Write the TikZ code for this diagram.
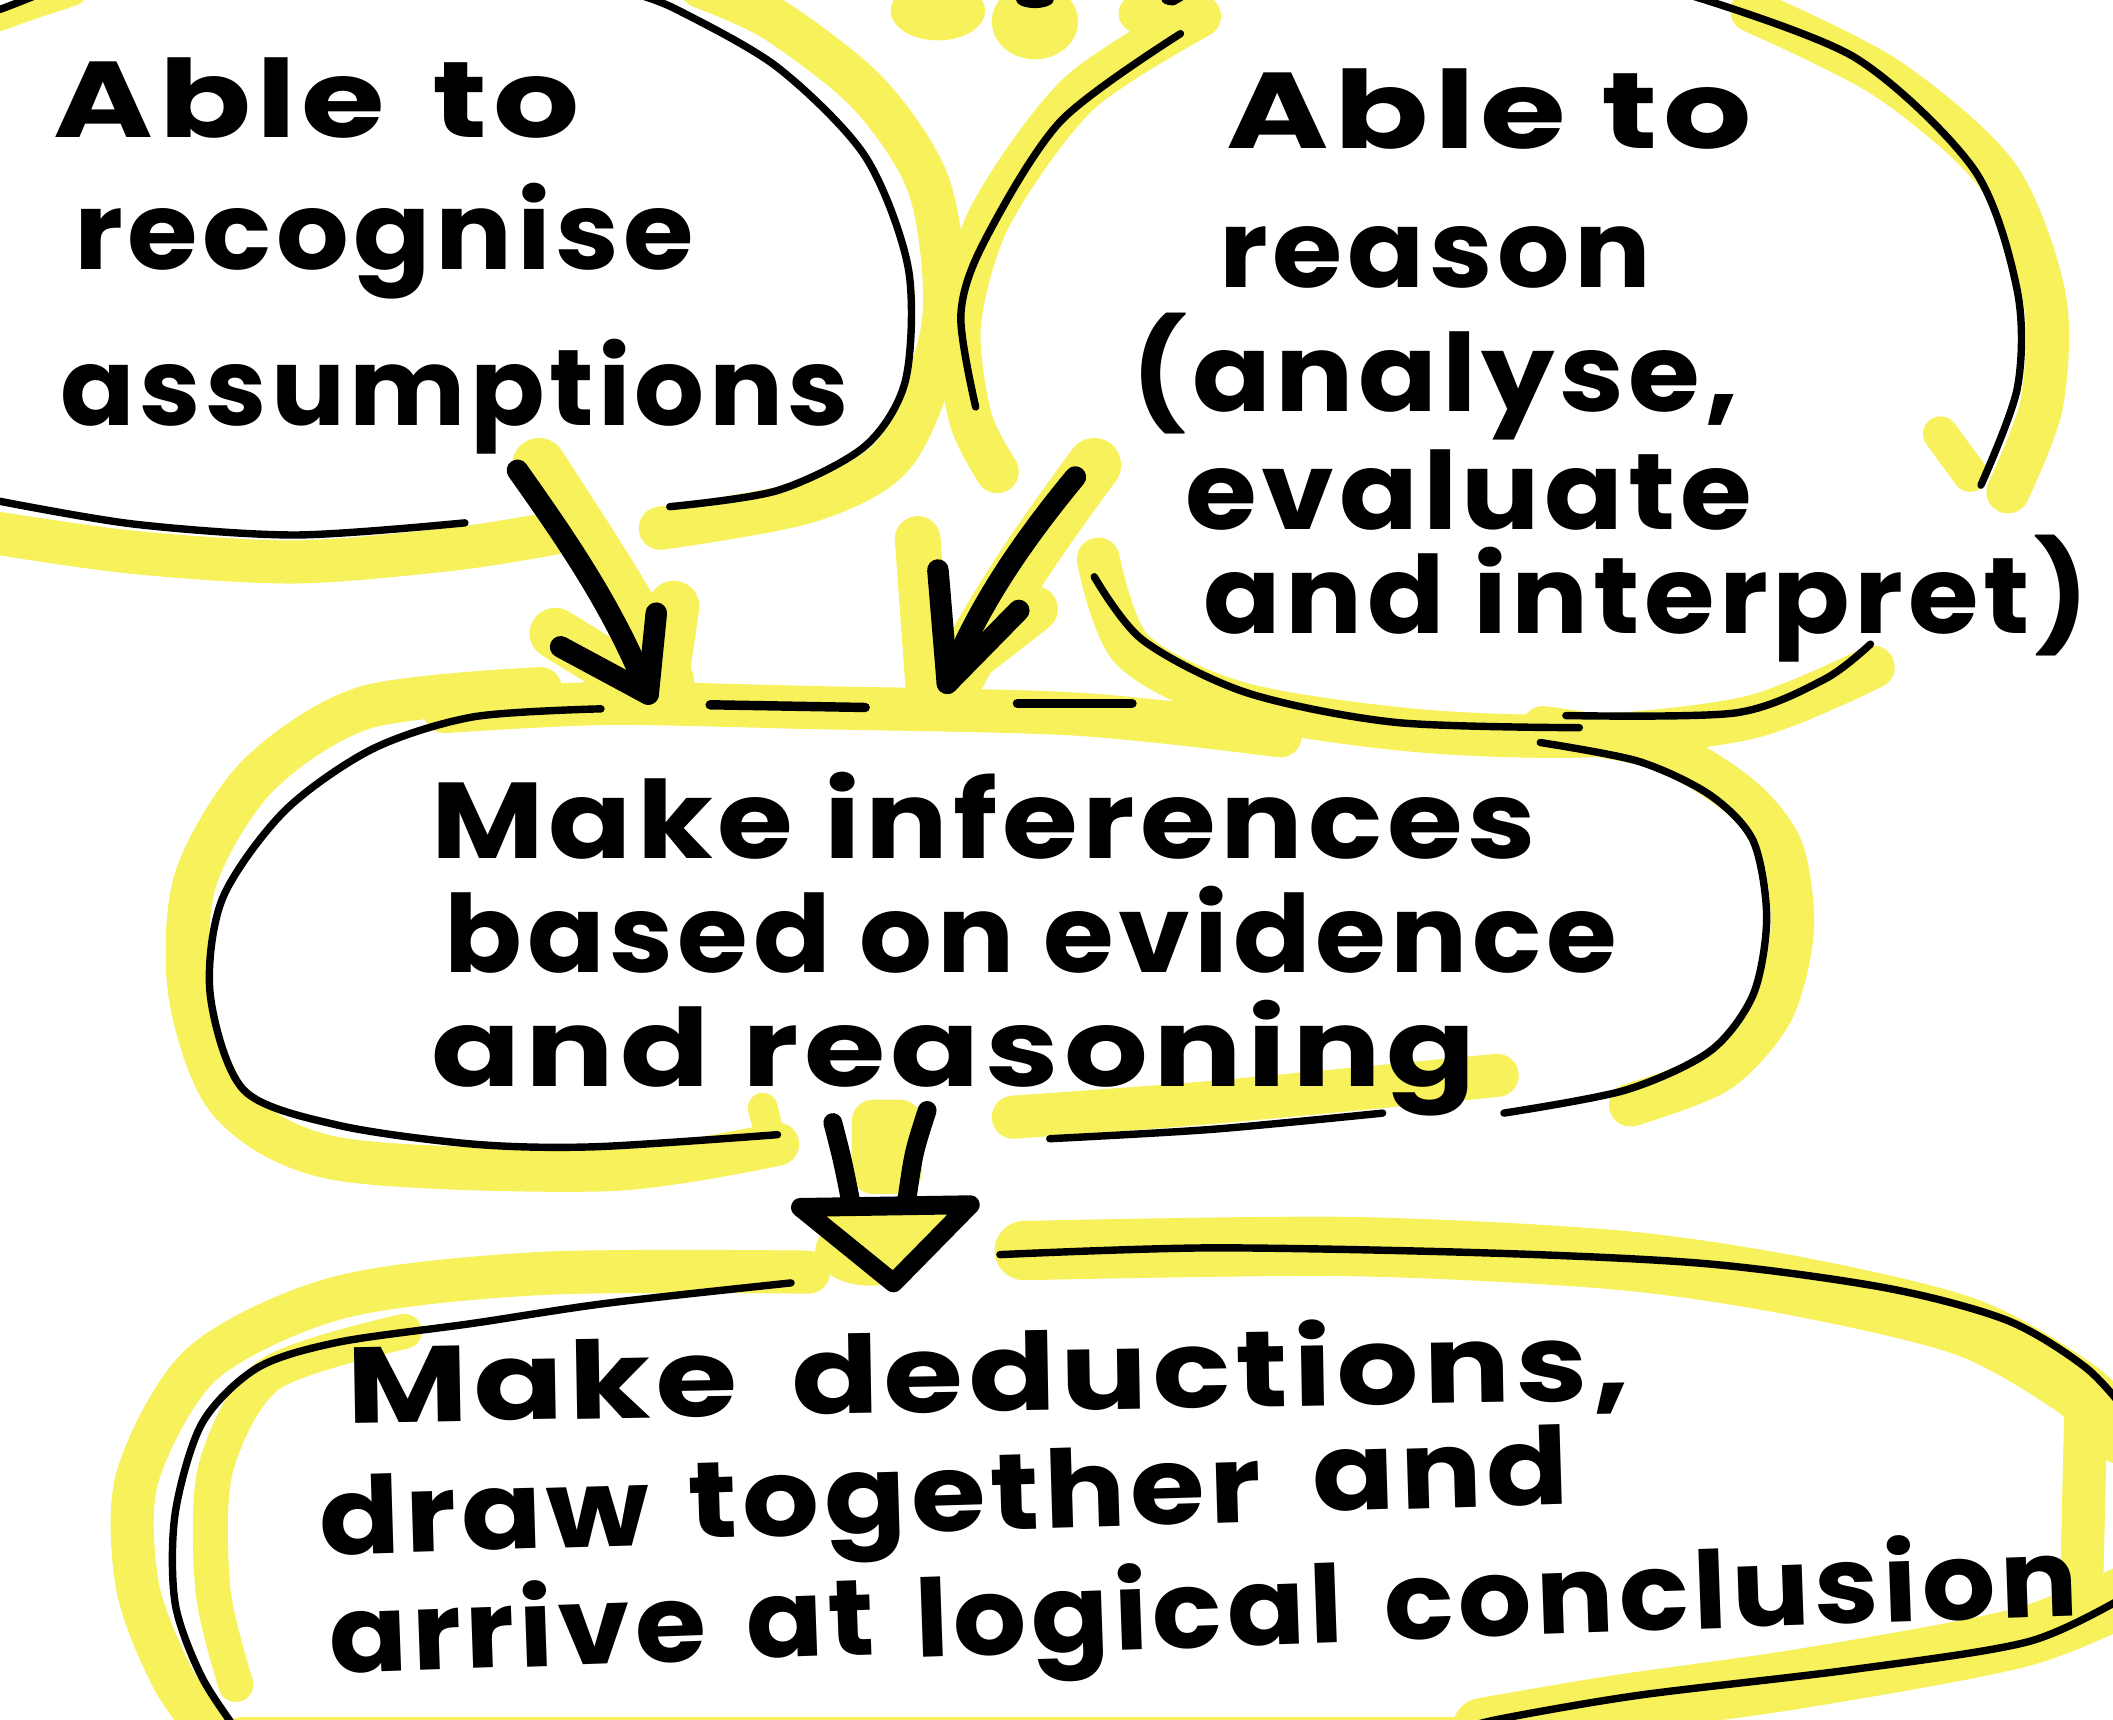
\documentclass[tikz,border=0pt]{standalone}
\usepackage{fontspec}
\setmainfont{Poppins}[LetterSpace=4]
\usepackage{graphicx}
\definecolor{hy}{RGB}{247,241,92}
\newcommand{\fitw}[2]{\resizebox{#1pt}{\height}{#2}}
\tikzset{
  hl/.style={draw=hy, line width=32pt, line cap=round, line join=round},
  pen/.style={draw=black, line width=5.5pt, line cap=round, line join=round},
  arrowpen/.style={draw=black, line width=16pt, line cap=round, line join=round},
  txt/.style={anchor=base west, inner sep=0pt, outer sep=0pt, font=\bfseries\fontsize{80}{92}\selectfont}
}
\begin{document}
\begin{tikzpicture}[x=1pt,y=-1pt]
\useasboundingbox (0,0) rectangle (1568,1276);
\clip (0,0) rectangle (1568,1276);
\fill[white] (0,0) rectangle (1568,1276);

% ---------- yellow highlights ----------
\draw[hl, line width=18pt] (0,14) .. controls (20,6) and (35,2) .. (55,-5);
\draw[hl] plot[smooth] coordinates {(0,396) (100,410) (220,417) (340,407) (420,394)};
\draw[hl] plot[smooth] coordinates {(490,392) (600,372) (665,335) (700,240) (690,140) (645,70) (575,15) (520,-10)};
\fill[hy] (696,8) ellipse [x radius=35, y radius=22];
\fill[hy] (768,16) ellipse [x radius=32, y radius=28];
\fill[hy] (862,10) ellipse [x radius=32, y radius=20];
\fill[black] (768,0) ellipse [x radius=14, y radius=6];
\fill[black] (870,0) ellipse [x radius=8, y radius=4];
\draw[hl] plot[smooth] coordinates {(890,12) (800,70) (735,160) (712,240) (720,310) (740,350)};
\draw[hl] plot[smooth] coordinates {(1300,8) (1400,58) (1482,130) (1517,220) (1515,300) (1490,365)};
\draw[hl, line width=26pt] (1440,322) -- (1462,352);
\draw[hl] plot[smooth] coordinates {(815,415) (840,482) (920,522) (1050,542) (1180,546) (1300,532) (1390,495)};
\draw[hl] plot[smooth] coordinates {(330,528) (450,522) (600,525) (800,530) (950,546)};
\draw[hl, line width=40pt] (400,345) .. controls (435,400) and (470,450) .. (495,505);
\draw[hl, line width=38pt] (412,470) -- (490,518) -- (500,450);
\draw[hl, line width=40pt] (812,345) .. controls (775,395) and (740,445) .. (712,500);
\draw[hl, line width=34pt] (681,400) -- (689,510);
\draw[hl, line width=34pt] (700,505) -- (768,452);
\draw[hl] plot[smooth] coordinates {(401,511) (271,525) (191,576) (145,653) (141,738) (171,818) (251,860) (451,868) (577,849)};
\draw[hl, line width=22pt] (566,822) -- (572,846);
\draw[hl] plot[smooth] coordinates {(1145,540) (1230,555) (1290,590) (1322,630) (1330,690) (1315,750) (1275,795) (1210,820)};
\draw[hl] plot[smooth] coordinates {(752,829) (900,818) (1111,798)};
\fill[hy, rounded corners=16pt] (632,816) rectangle (684,886);
\fill[hy] (645,928) ellipse [x radius=40, y radius=26];
\draw[hl] plot[smooth] coordinates {(600,944) (401,945) (251,963) (150,1012) (102,1096) (102,1177) (128,1245) (160,1290)};
\draw[hl, line width=26pt] plot[smooth] coordinates {(300,988) (200,1020) (160,1090) (158,1180) (175,1250)};
\draw[hl, line width=44pt] plot[smooth] coordinates {(760,928) (1000,925) (1200,935) (1336,955) (1460,985) (1540,1030) (1575,1065)};
\draw[hl] (1548,1040) -- (1545,1165);
\draw[hl, line width=44pt] plot[smooth] coordinates {(1585,1180) (1500,1215) (1340,1245) (1200,1265) (1100,1282)};
\draw[hl] (180,1290) -- (1100,1290);

% ---------- black outlines ----------
\draw[pen] (0,7) .. controls (8,4) and (16,1) .. (28,-4);
\draw[pen] plot[smooth] coordinates {(0,372) (100,389) (220,397) (345,388)};
\draw[pen] plot[smooth] coordinates {(497,376) (577,364) (642,331) (672,282) (674,199) (642,116) (577,50) (502,7) (470,-5)};
\draw[pen] plot[smooth] coordinates {(876,25) (787,90) (730,180) (713,234) (724,302)};
\draw[pen] plot[smooth] coordinates {(1256,-3) (1377,43) (1465,126) (1497,216) (1497,288) (1470,360)};
\draw[pen] plot[smooth] coordinates {(812,428) (848,475) (925,514) (1035,536) (1172,540)};
\draw[pen] plot[smooth] coordinates {(1162,531) (1288,529) (1354,504) (1388,478)};
\draw[pen, line width=7pt] (527,523) -- (642,525);
\draw[pen, line width=7pt] (755,522) -- (840,522);
\draw[pen] plot[smooth] coordinates {(446,526) (351,532) (276,556) (211,602) (165,667) (156,738) (181,809) (251,835) (351,849) (441,851) (577,842)};
\draw[pen] plot[smooth] coordinates {(1143,551) (1216,565) (1269,590) (1301,624) (1311,681) (1301,738) (1269,780) (1206,809) (1116,826)};
\draw[pen] plot[smooth] coordinates {(779,845) (900,838) (1026,826)};
\draw[pen] plot[smooth] coordinates {(587,952) (451,967) (351,982) (251,996) (191,1015) (150,1056) (130,1123) (130,1190) (150,1245) (180,1290)};
\draw[pen] plot[smooth] coordinates {(742,931) (900,926) (1111,930) (1269,938) (1401,956) (1490,980) (1548,1015) (1580,1050)};
\draw[pen] plot[smooth] coordinates {(1580,1183) (1506,1218) (1374,1239) (1216,1258) (1111,1276) (1080,1285)};

% ---------- arrows ----------
\coordinate (la1) at (384,349);
\coordinate (la2) at (481,515);
\coordinate (ra1) at (798,354);
\coordinate (ra2) at (703,507);
\draw[arrowpen] (la1) .. controls (420,400) and (455,450) .. (la2);
\draw[arrowpen] (416,480) -- (la2) -- (487,455);
\draw[arrowpen] (ra1) .. controls (760,400) and (725,450) .. (ra2);
\draw[arrowpen] (696,423) -- (ra2) -- (756,453);

\coordinate (hs1) at (618,833);
\coordinate (hs2) at (688,824);
\coordinate (ht) at (663,952);
\draw[arrowpen, line width=14pt] (hs1) .. controls (625,860) .. (631,890);
\draw[arrowpen, line width=14pt] (hs2) .. controls (678,855) .. (673,890);
\draw[arrowpen, line width=14pt, fill=hy] (594,896) -- (720,894) -- (ht) -- cycle;

% ---------- texts ----------
\node[txt] (n11) at (40,102) {\fitw{390}{Able\hspace{0.35em}to}};
\node[txt] (n12) at (55,200) {\fitw{460}{recognise}};
\node[txt] (n13) at (45,316) {\fitw{585}{assumptions}};

\node[txt] (n21) at (910,110) {\fitw{390}{Able to}};
\node[txt] (n22) at (905,213) {\fitw{320}{reason}};
\node[txt] (n23) at (840,305) {\fitw{450}{(analyse,}};
\node[txt] (n24) at (880,393) {\fitw{420}{evaluate}};
\node[txt] (n25) at (893,470) {\fitw{657}{and interpret)}};

\node[txt] (n31) at (320,637) {\fitw{820}{Make inferences}};
\node[txt] (n32) at (330,722) {\fitw{870}{based on evidence}};
\node[txt] (n33) at (320,806) {\fitw{775}{and reasoning}};

\node[txt, rotate=1] (n41a) at (258,1056) {\fitw{290}{Make}};
\node[txt, rotate=1] (n41b) at (588,1050) {\fitw{622}{deductions,}};
\node[txt, rotate=1.7] (n42a) at (238,1154) {\fitw{245}{draw}};
\node[txt, rotate=1.7] (n42c) at (512,1142) {\fitw{425}{together}};
\node[txt, rotate=1.7] (n42b) at (975,1122) {\fitw{190}{and}};
\node[txt, rotate=2] (n43a) at (245,1242) {\fitw{280}{arrive}};
\node[txt, rotate=2] (n43b) at (555,1231) {\fitw{95}{at}};
\node[txt, rotate=2] (n43c) at (680,1230) {\fitw{318}{logical}};
\node[txt, rotate=2] (n43d) at (1028,1217) {\fitw{515}{conclusion}};
\end{tikzpicture}
\end{document}
